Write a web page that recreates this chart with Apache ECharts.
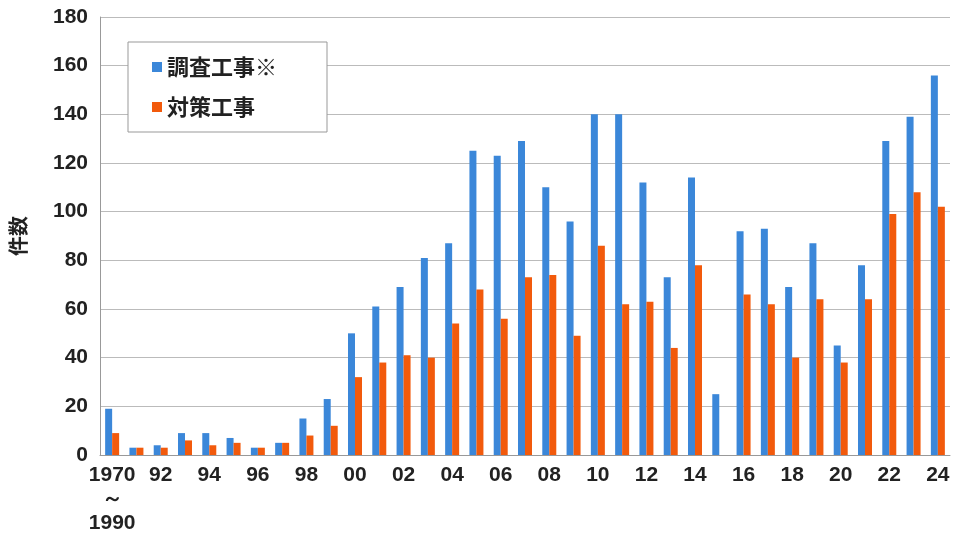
<!DOCTYPE html>
<html><head><meta charset="utf-8">
<script src="https://cdn.jsdelivr.net/npm/echarts@6/dist/echarts.min.js"></script>
<style>html,body{margin:0;padding:0;background:#fff}#c{width:961px;height:541px}</style>
</head><body><div id="c"></div>
<script>
const categories = ['1970\n～\n1990','91','92','93','94','95','96','97','98','99','00','01','02','03','04','05','06','07','08','09','10','11','12','13','14','15','16','17','18','19','20','21','22','23','24'];
const survey = [19,3,4,9,9,7,3,5,15,23,50,61,69,81,87,125,123,129,110,96,140,140,112,73,114,25,92,93,69,87,45,78,129,139,156];
const measures = [9,3,3,6,4,5,3,5,8,12,32,38,41,40,54,68,56,73,74,49,86,62,63,44,78,null,66,62,40,64,38,64,99,108,102];
const chart = echarts.init(document.getElementById('c'));
const F = '"Liberation Sans Narrow","Liberation Sans",sans-serif';
chart.setOption({
  animation:false,
  grid:{left:100,right:11,top:17,bottom:86},
  legend:{
    orient:'vertical', left:128, top:42, padding:[14,50,14,24], itemGap:18,
    borderColor:'#999', borderWidth:1, backgroundColor:'#fff',
    itemWidth:10, itemHeight:10, icon:'rect',
    textStyle:{fontSize:22,fontWeight:'bold',color:'#222',fontFamily:'"Noto Sans CJK JP",sans-serif'},
    data:['調査工事※','対策工事']
  },
  xAxis:{type:'category',data:categories,
    axisLine:{lineStyle:{color:'#999'}},axisTick:{show:false},
    axisLabel:{interval:1,fontSize:21,fontWeight:'bold',color:'#222',fontFamily:F,margin:8,lineHeight:24}},
  yAxis:{type:'value',min:0,max:180,interval:20,name:'件数',nameLocation:'middle',nameGap:72,
    nameTextStyle:{fontSize:20,fontWeight:'bold',color:'#222',fontFamily:'"Noto Sans CJK JP",sans-serif'},
    axisLine:{show:true,lineStyle:{color:'#999'}},
    splitLine:{lineStyle:{color:'#bbb'}},
    axisLabel:{fontSize:21,fontWeight:'bold',color:'#222',fontFamily:F,margin:12}},
  series:[
    {name:'調査工事※',type:'bar',data:survey,barWidth:7,barGap:'0%',itemStyle:{color:'#3b87d9'}},
    {name:'対策工事',type:'bar',data:measures,barWidth:7,itemStyle:{color:'#f25a0c'}}
  ]
});
</script></body></html>
